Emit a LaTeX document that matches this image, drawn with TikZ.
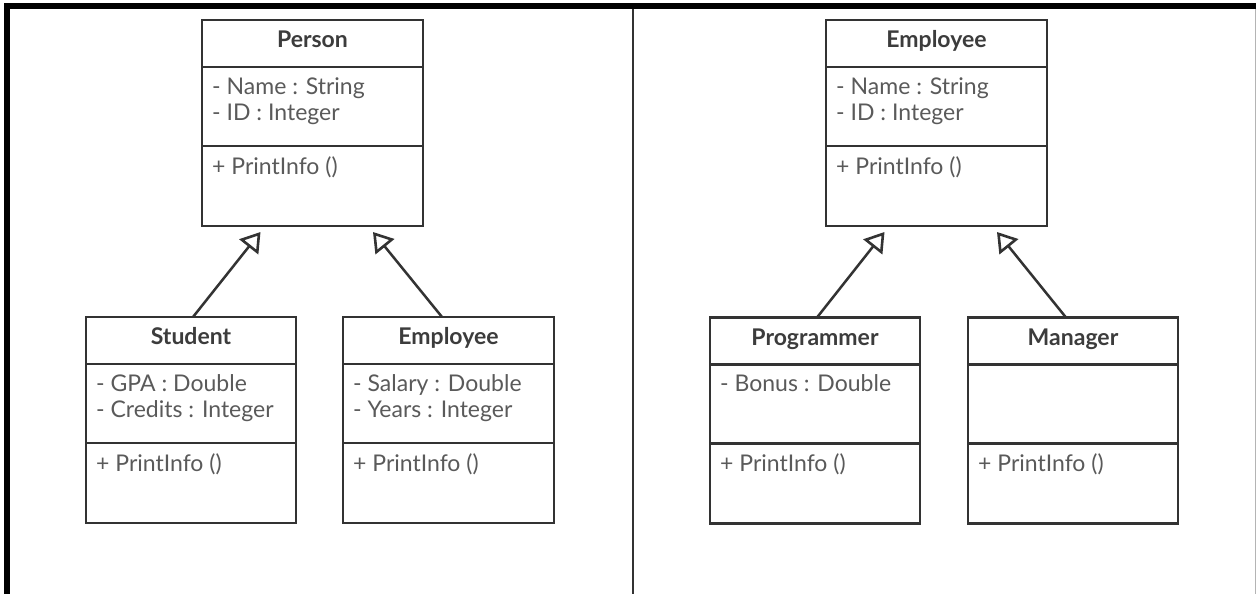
\documentclass[tikz,border=0pt]{standalone}
\usepackage{fontspec}
\setmainfont{Lato}
\usetikzlibrary{arrows.meta,calc}

\definecolor{umlline}{HTML}{333333}
\definecolor{umltitle}{HTML}{3C3C3C}
\definecolor{umltext}{HTML}{5A5A5A}
\definecolor{frameedge}{HTML}{B4B4B4}

\tikzset{
  classbox/.style={draw=umlline, line width=2.6pt, fill=white, minimum height=206pt,
    inner sep=0pt, outer sep=0pt, anchor=north},
  compsep/.style={draw=umlline, line width=2.6pt},
  classtitle/.style={font=\fontsize{23}{26}\selectfont\bfseries, text=umltitle,
    anchor=base, inner sep=0pt},
  member/.style={font=\fontsize{23}{26}\selectfont, text=umltext,
    anchor=base west, inner sep=0pt},
  inherits/.style={draw=umlline, line width=2.5pt,
    -{Triangle[open, length=19pt, width=24pt, line width=2.6pt]}}
}

% class box: name, centre x, top y, width, title, operation
\newcommand{\umlclass}[6]{%
  \node[classbox, minimum width=#4] (#1) at (#2,#3) {};
  \draw[compsep] ([yshift=-47pt]#1.north west) -- ([yshift=-47pt]#1.north east);
  \draw[compsep] ([yshift=-126pt]#1.north west) -- ([yshift=-126pt]#1.north east);
  \node[classtitle] (#1-title) at ([yshift=-27.5pt]#1.north) {#5};
  \node[member] (#1-op) at ([xshift=10pt,yshift=-154pt]#1.north west) {#6};
}
% attribute line: class name, line number, vertical offset, text
\newcommand{\umlattr}[4]{%
  \node[member] (#1-a#2) at ([xshift=10pt,yshift=-#3pt]#1.north west) {#4};
}

\begin{document}
\begin{tikzpicture}[x=1pt, y=-1pt]
  \useasboundingbox (0,0) rectangle (1256,594);
  \fill[white] (0,0) rectangle (1256,594);

  % frame
  \fill[black] (4,3) rectangle (1256,9);
  \fill[black] (4,3) rectangle (10,594);
  \draw[umlline, line width=1.5pt] (633,9) -- (633,594);
  \draw[frameedge, line width=1pt] (1255.5,9) -- (1255.5,594);

  % left hierarchy
  \umlclass{person}{312.5}{20}{221}{Person}{+ PrintInfo ()}
  \umlattr{person}{1}{74}{- Name : String}
  \umlattr{person}{2}{100}{- ID : Integer}

  \umlclass{student}{191}{317}{210}{Student}{+ PrintInfo ()}
  \umlattr{student}{1}{74}{- GPA : Double}
  \umlattr{student}{2}{100}{- Credits : Integer}

  \umlclass{employee}{448.5}{317}{211}{Employee}{+ PrintInfo ()}
  \umlattr{employee}{1}{74}{- Salary : Double}
  \umlattr{employee}{2}{100}{- Years : Integer}

  \draw[inherits] ([xshift=2pt]student.north) -- ($(person.south)+(-52pt,-6pt)$);
  \draw[inherits] ([xshift=-6.5pt]employee.north) -- ($(person.south)+(60.5pt,-6pt)$);

  % right hierarchy
  \umlclass{staff}{936.5}{20}{221}{Employee}{+ PrintInfo ()}
  \umlattr{staff}{1}{74}{- Name : String}
  \umlattr{staff}{2}{100}{- ID : Integer}

  \umlclass{programmer}{815}{317.5}{210}{Programmer}{+ PrintInfo ()}
  \umlattr{programmer}{1}{74}{- Bonus : Double}

  \umlclass{manager}{1073}{317.5}{210}{Manager}{+ PrintInfo ()}

  \draw[inherits] ([xshift=2pt]programmer.north) -- ($(staff.south)+(-52pt,-6pt)$);
  \draw[inherits] ([xshift=-7pt]manager.north) -- ($(staff.south)+(60.5pt,-6pt)$);
\end{tikzpicture}
\end{document}
